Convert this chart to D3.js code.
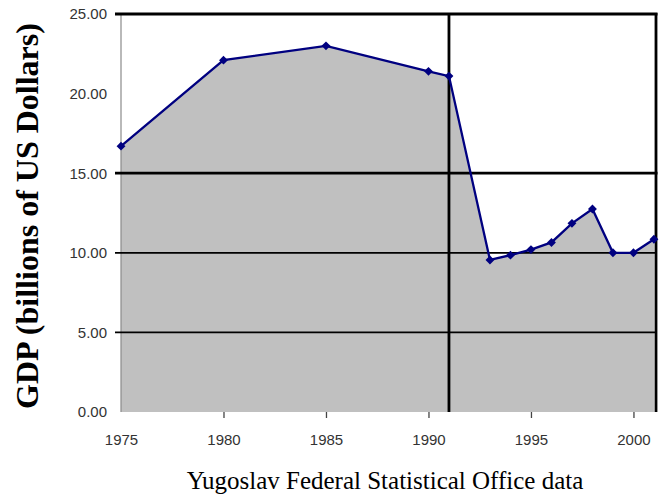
<!DOCTYPE html>
<html><head><meta charset="utf-8">
<script src="https://cdn.jsdelivr.net/npm/d3@7"></script>
<style>body{margin:0;background:#fff}svg{display:block}</style>
</head><body>
<script>
const years = [1975, 1980, 1985, 1990, 1991, 1993, 1994, 1995, 1996, 1997, 1998, 1999, 2000, 2001];
const gdp   = [16.7, 22.1, 23.0, 21.4, 21.1, 9.55, 9.85, 10.2, 10.65, 11.85, 12.75, 10.0, 10.0, 10.85];
const yTicks = [0, 5, 10, 15, 20, 25];
const xTicks = [1975, 1980, 1985, 1990, 1995, 2000];
const gridLines = [5, 10];
const heavyLines = [15, 25];
const markYear = 1991;
const yTitle = "GDP (billions of US Dollars)";
const caption = "Yugoslav Federal Statistical Office data";

const W = 659, H = 495;
const svg = d3.select("body").append("svg").attr("width", W).attr("height", H);
const x = d3.scaleLinear().domain([1975, 2001.1]).range([121, 656]);
const y = d3.scaleLinear().domain([0, 25]).range([412, 14]);
const data = years.map((d, i) => ({year: d, v: gdp[i]}));
const [x0, x1] = x.range();
const [yb, yt] = y.range();

svg.append("rect").attr("x", x0).attr("y", yt).attr("width", x1 - x0).attr("height", yb - yt).attr("fill", "#fff");

svg.append("path").datum(data)
  .attr("d", d3.area().x(d => x(d.year)).y0(y(0)).y1(d => y(d.v)))
  .attr("fill", "#c0c0c0");

svg.append("line").attr("x1", x0).attr("x2", x0).attr("y1", yt).attr("y2", yb)
  .attr("stroke", "#8a8a8a").attr("stroke-width", 1.2);

svg.selectAll(".grid").data(gridLines).enter().append("line")
  .attr("x1", x0 - 6).attr("x2", x1).attr("y1", d => y(d)).attr("y2", d => y(d))
  .attr("stroke", "#000").attr("stroke-width", 1.8);
svg.selectAll(".heavy").data(heavyLines).enter().append("line")
  .attr("x1", x0 - 6).attr("x2", x1 + 1.5).attr("y1", d => y(d)).attr("y2", d => y(d))
  .attr("stroke", "#000").attr("stroke-width", 2.8);
svg.selectAll(".vline").data([x(markYear), x1]).enter().append("line")
  .attr("x1", d => d).attr("x2", d => d).attr("y1", yt - 1).attr("y2", yb)
  .attr("stroke", "#000").attr("stroke-width", 2.8);

const xAxis = d3.axisBottom(x).tickValues(xTicks).tickSize(6).tickPadding(16).tickFormat(d3.format("d"));
const gx = svg.append("g").attr("transform", `translate(0,${yb})`).call(xAxis);
gx.select(".domain").remove();
gx.selectAll(".tick line").attr("stroke", "#444").attr("stroke-width", 1.3)
  .filter(d => d === 1975).remove();
gx.selectAll(".tick text").attr("font-family", "Liberation Sans, Arial, sans-serif")
  .attr("font-size", 15).attr("fill", "#333");

const yAxis = d3.axisLeft(y).tickValues(yTicks).tickSize(0).tickPadding(14).tickFormat(d3.format(".2f"));
const gy = svg.append("g").attr("transform", `translate(${x0},0)`).call(yAxis);
gy.select(".domain").remove();
gy.selectAll(".tick text").attr("font-family", "Liberation Sans, Arial, sans-serif")
  .attr("font-size", 15).attr("fill", "#333");

svg.append("path").datum(data)
  .attr("d", d3.line().x(d => x(d.year)).y(d => y(d.v)))
  .attr("fill", "none").attr("stroke", "#000080").attr("stroke-width", 2.3);
svg.selectAll(".mk").data(data).enter().append("path")
  .attr("transform", d => `translate(${x(d.year)},${y(d.v)})`)
  .attr("d", d3.symbol().type(d3.symbolDiamond2).size(50))
  .attr("fill", "#000080");

svg.append("text").attr("transform", `translate(38,216) rotate(-90)`)
  .attr("text-anchor", "middle").attr("font-family", "Liberation Serif, Times New Roman, serif")
  .attr("font-weight", "bold").attr("font-size", 32).attr("fill", "#000").text(yTitle);
svg.append("text").attr("x", 385).attr("y", 489).attr("text-anchor", "middle")
  .attr("font-family", "Liberation Serif, Times New Roman, serif")
  .attr("font-size", 25).attr("fill", "#000").text(caption);
</script>
</body></html>
